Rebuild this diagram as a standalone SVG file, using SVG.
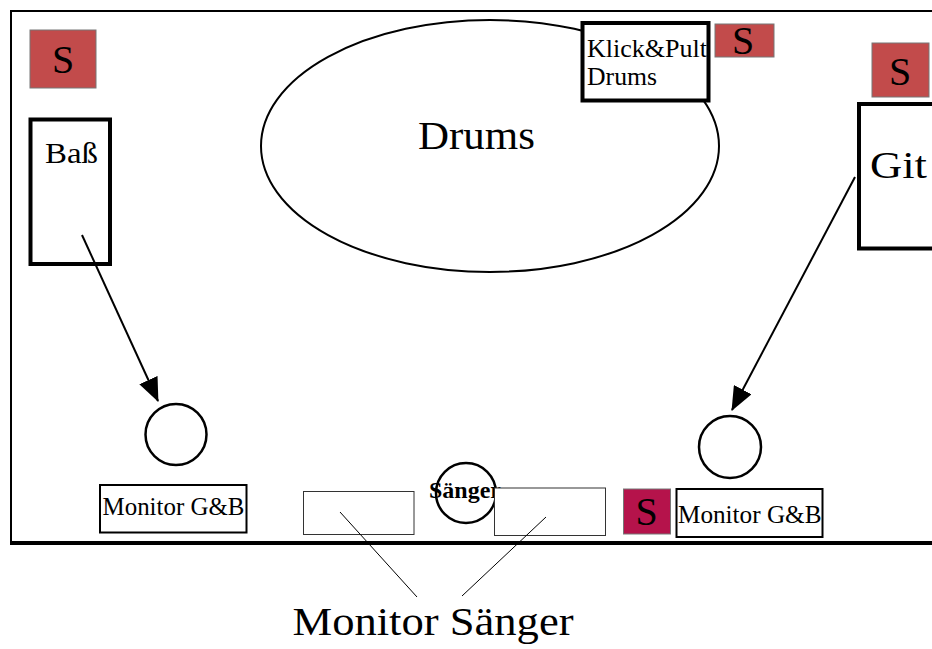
<svg xmlns="http://www.w3.org/2000/svg" width="932" height="649" viewBox="0 0 932 649">
<style>
text{font-family:"Liberation Serif","Times New Roman",serif;fill:#000}
.box{fill:#fff;stroke:#000;stroke-width:4}
.mon{fill:#fff;stroke:#000;stroke-width:2}
.thin{fill:#fff;stroke:#333;stroke-width:1}
.spk{fill:#C24B4B;stroke:#777;stroke-width:1}
.ring{fill:#fff;stroke:#000;stroke-width:2.5}
.s{font-size:40px;text-anchor:middle}
.conn{stroke:#000;stroke-width:2;fill:none}
.lead{stroke:#000;stroke-width:1;fill:none}
</style>
<defs>
<marker id="ah" markerUnits="userSpaceOnUse" viewBox="0 0 24 20" markerWidth="24" markerHeight="20" refX="23" refY="10" orient="auto">
<path d="M0,0 L24,10 L0,20 z" fill="#000"/>
</marker>
</defs>
<rect width="932" height="649" fill="#fff"/>
<g id="stage">
<line x1="11" y1="11" x2="932" y2="11" stroke="#000" stroke-width="2"/>
<line x1="11" y1="10" x2="11" y2="545" stroke="#000" stroke-width="2"/>
<line x1="10" y1="543" x2="932" y2="543" stroke="#000" stroke-width="4"/>
</g>
<g id="drums">
<ellipse cx="490" cy="146" rx="229" ry="126" fill="none" stroke="#000" stroke-width="2"/>
<text x="418" y="149" font-size="40" textLength="117" lengthAdjust="spacingAndGlyphs">Drums</text>
</g>
<g id="klick">
<rect class="box" x="582.5" y="23" width="126" height="77.5"/>
<text x="587" y="57" font-size="25" textLength="120" lengthAdjust="spacingAndGlyphs">Klick&amp;Pult</text>
<text x="587" y="85" font-size="25" textLength="70" lengthAdjust="spacingAndGlyphs">Drums</text>
</g>
<g id="s-klick">
<rect class="spk" x="715" y="24" width="59" height="33"/>
<text class="s" x="743" y="54" font-size="38">S</text>
</g>
<g id="s-left">
<rect class="spk" x="30" y="30" width="66" height="58"/>
<text class="s" x="63" y="73" font-size="42">S</text>
</g>
<g id="s-right">
<rect class="spk" x="872" y="43" width="57" height="54"/>
<text class="s" x="900" y="85" font-size="42">S</text>
</g>
<g id="bass">
<rect class="box" x="30.5" y="119.5" width="79.5" height="144.5"/>
<text x="45" y="163" font-size="30" textLength="53" lengthAdjust="spacingAndGlyphs">Baß</text>
</g>
<g id="git">
<rect class="box" x="859" y="104" width="90" height="144.5"/>
<text x="870" y="178" font-size="38" textLength="57" lengthAdjust="spacingAndGlyphs">Git</text>
</g>
<g id="wedge-left">
<circle class="ring" cx="176" cy="434.5" r="30.5"/>
</g>
<g id="wedge-right">
<circle class="ring" cx="730" cy="447" r="31"/>
</g>
<g id="monitor-gb-left">
<rect class="mon" x="100" y="485" width="146.5" height="47.5"/>
<text x="102.5" y="515" font-size="25" textLength="142" lengthAdjust="spacingAndGlyphs">Monitor G&amp;B</text>
</g>
<g id="s-bottom">
<rect x="623.5" y="489" width="47" height="45" fill="#B5134B" stroke="#777" stroke-width="1"/>
<text class="s" x="646.5" y="525" font-size="40">S</text>
</g>
<g id="monitor-gb-right">
<rect class="mon" x="676.5" y="489" width="146" height="48"/>
<text x="678" y="522.5" font-size="25" textLength="143.5" lengthAdjust="spacingAndGlyphs">Monitor G&amp;B</text>
</g>
<g id="monitor-saenger-left">
<rect class="thin" x="303.5" y="491.5" width="110.5" height="43"/>
</g>
<g id="saenger">
<circle class="ring" cx="466" cy="493" r="30"/>
<text x="429" y="498" font-size="24" font-weight="bold">Sänger</text>
</g>
<g id="monitor-saenger-right">
<rect class="thin" x="494.5" y="488" width="111" height="47.5"/>
</g>
<g id="label-monitor-saenger">
<text x="292.5" y="635" font-size="40" textLength="281" lengthAdjust="spacingAndGlyphs">Monitor Sänger</text>
</g>
<g id="connectors">
<line class="conn" x1="82" y1="235" x2="158" y2="401" marker-end="url(#ah)"/>
<line class="conn" x1="855" y1="177" x2="732" y2="410" marker-end="url(#ah)"/>
<line class="lead" x1="340" y1="512" x2="417" y2="597"/>
<line class="lead" x1="546" y1="517" x2="462" y2="596"/>
</g>
</svg>
